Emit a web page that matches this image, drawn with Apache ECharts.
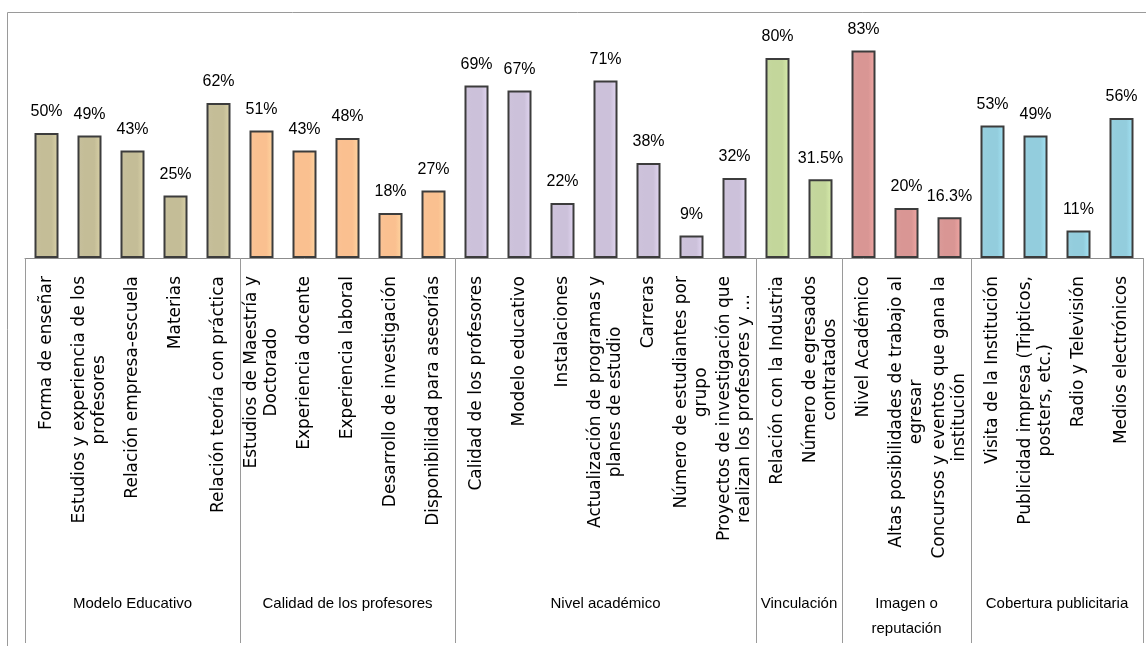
<!DOCTYPE html>
<html>
<head>
<meta charset="utf-8">
<script src="https://cdn.jsdelivr.net/npm/echarts@6/dist/echarts.min.js"></script>
<style>
  html, body { margin: 0; padding: 0; background: #fff; }
  #main { width: 1146px; height: 646px; }
</style>
</head>
<body>
<div id="main"></div>
<script>
// categorias (una por barra)
var categories = [
  'Forma de enseñar', 'Estudios y experiencia de los\nprofesores', 'Relación empresa-escuela', 'Materias', 'Relación teoría con práctica',
  'Estudios de Maestría y\nDoctorado', 'Experiencia docente', 'Experiencia laboral', 'Desarrollo de investigación', 'Disponibilidad para asesorías',
  'Calidad de los profesores', 'Modelo educativo', 'Instalaciones', 'Actualización de programas y\nplanes de estudio', 'Carreras',
  'Número de estudiantes por\ngrupo', 'Proyectos de investigación que\nrealizan los profesores y …',
  'Relación con la Industria', 'Número de egresados\ncontratados',
  'Nivel Académico', 'Altas posibilidades de trabajo al\negresar', 'Concursos y eventos que gana la\ninstitución',
  'Visita de la Institución', 'Publicidad impresa (Tripticos,\nposters, etc.)', 'Radio y Televisión', 'Medios electrónicos'
];
var values = [50, 49, 43, 25, 62, 51, 43, 48, 18, 27, 69, 67, 22, 71, 38, 9, 32, 80, 31.5, 83, 20, 16.3, 53, 49, 11, 56];

// grupos
var groupNames = ['Modelo Educativo', 'Calidad de los profesores', 'Nivel académico', 'Vinculación', 'Imagen o\nreputación', 'Cobertura publicitaria'];
var groupSizes = [5, 5, 7, 2, 3, 4];
var groupColors = ['#c4bd97', '#fac090', '#ccc1da', '#c3d69b', '#d99694', '#93cddd'];

// limites y centros de grupo
var bounds = [0], mids = [], midName = {};
groupSizes.forEach(function (n, i) {
  var start = bounds[bounds.length - 1];
  bounds.push(start + n);
  mids.push(start + n / 2);
  midName[start + n / 2] = groupNames[i];
});

var barData = [];
var k = 0;
groupSizes.forEach(function (n, g) {
  for (var j = 0; j < n; j++) {
    barData.push({
      value: values[k++],
      itemStyle: {
        color: new echarts.graphic.LinearGradient(0, 0, 1, 0, [
          { offset: 0, color: echarts.color.lift(groupColors[g], 0.06) },
          { offset: 0.3, color: groupColors[g] },
          { offset: 0.7, color: groupColors[g] },
          { offset: 1, color: echarts.color.lift(groupColors[g], -0.12) }
        ])
      }
    });
  }
});

var catFont = "'DejaVu Sans', sans-serif";
var lblFont = "'Liberation Sans', Arial, sans-serif";

var option = {
  animation: false,
  backgroundColor: '#fff',
  graphic: [{
    type: 'rect',
    shape: { x: 7.5, y: 12.5, width: 1200, height: 700 },
    style: { fill: 'none', stroke: '#9a9a9a', lineWidth: 1 },
    silent: true
  }],
  grid: { left: 25, right: 3, top: 8, bottom: 388, containLabel: false, outerBoundsMode: 'none' },
  xAxis: [
    {
      type: 'category',
      data: categories,
      axisLine: { lineStyle: { color: '#8c8c8c', width: 1 } },
      axisTick: { show: false },
      axisLabel: {
        interval: 0,
        rotate: 90,
        margin: 18,
        formatter: function (v) {
          return v.split('\n').map(function (s) { return '{c|' + s + '}'; }).join('\n');
        },
        rich: {
          c: { align: 'center', fontFamily: catFont, fontSize: 17, lineHeight: 20, color: '#000' }
        }
      }
    },
    {
      type: 'value',
      min: 0,
      max: 26,
      position: 'bottom',
      axisLine: { show: false },
      splitLine: { show: false },
      axisTick: {
        show: true,
        inside: false,
        length: 385,
        customValues: bounds,
        lineStyle: { color: '#9a9a9a', width: 1 }
      },
      axisLabel: {
        customValues: mids,
        margin: 333,
        fontFamily: lblFont,
        fontSize: 15,
        lineHeight: 25,
        color: '#000',
        formatter: function (v) { return midName[v] || ''; }
      }
    }
  ],
  yAxis: { type: 'value', min: 0, max: 100, show: false, splitLine: { show: false } },
  series: [{
    type: 'bar',
    xAxisIndex: 0,
    barWidth: 24,
    data: barData,
    itemStyle: { borderColor: '#3c3c3c', borderWidth: 2 },
    label: {
      show: true,
      position: 'top',
      distance: 13,
      fontFamily: lblFont,
      fontSize: 16,
      color: '#000',
      formatter: '{c}%'
    }
  }]
};

var chart = echarts.init(document.getElementById('main'));
chart.setOption(option);
</script>
</body>
</html>
